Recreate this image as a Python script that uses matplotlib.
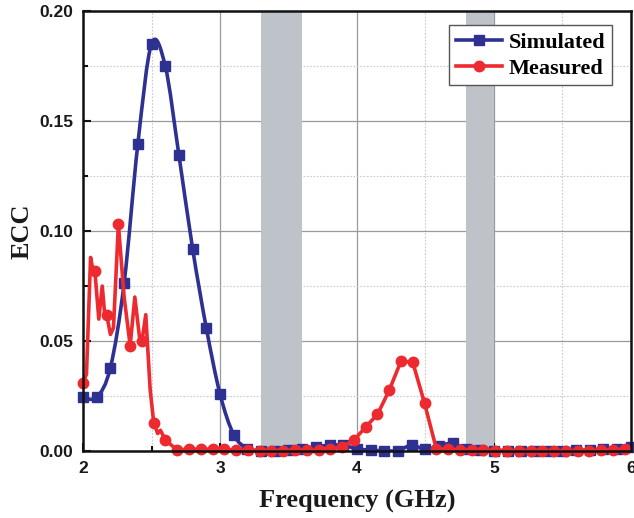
import numpy as np
import matplotlib
matplotlib.use("Agg")
import matplotlib.pyplot as plt
from matplotlib.path import Path
from matplotlib.patches import PathPatch
from matplotlib.lines import Line2D
from matplotlib.ticker import MultipleLocator

# ---- data -------------------------------------------------------------
sim_freq = [2.0, 2.1, 2.2, 2.3, 2.4, 2.5, 2.6, 2.7, 2.8, 2.9, 3.0, 3.1,
            3.2, 3.3, 3.4, 3.5, 3.6, 3.7, 3.8, 3.9, 4.0, 4.1, 4.2, 4.3,
            4.4, 4.5, 4.6, 4.7, 4.8, 4.9, 5.0, 5.1, 5.2, 5.3, 5.4, 5.5,
            5.6, 5.7, 5.8, 5.9, 6.0]
sim_ecc = [0.0245, 0.0245, 0.038, 0.0764, 0.1395, 0.185, 0.175, 0.1345,
           0.092, 0.056, 0.026, 0.0075, 0.0012, 0.0003, 0.0003, 0.0005,
           0.0010, 0.0020, 0.0027, 0.0027, 0.0010, 0.0005, 0.0002, 0.0003,
           0.0027, 0.0008, 0.0025, 0.0035, 0.0010, 0.0004, 0.0003, 0.0003,
           0.0003, 0.0003, 0.0003, 0.0003, 0.0004, 0.0005, 0.0008, 0.0012,
           0.0020]

# measured trace (vertices of the recorded curve)
meas_freq = [2.000, 2.025, 2.055, 2.070, 2.086, 2.115, 2.140, 2.160, 2.172,
             2.200, 2.222, 2.258, 2.300, 2.344, 2.378, 2.412, 2.430, 2.458,
             2.490, 2.516, 2.545, 2.565, 2.602, 2.688, 2.774, 2.860, 2.946,
             3.032, 3.118, 3.204, 3.290, 3.376, 3.462, 3.548, 3.634, 3.720,
             3.806, 3.892, 3.978, 4.064, 4.150, 4.236, 4.322, 4.408, 4.494,
             4.580, 4.666, 4.752, 4.838, 4.924, 5.010, 5.096, 5.182, 5.268,
             5.354, 5.440, 5.526, 5.612, 5.698, 5.784, 5.870, 5.956]
meas_ecc = [0.031, 0.035, 0.088, 0.083, 0.082, 0.060, 0.075, 0.061, 0.062,
            0.053, 0.056, 0.103, 0.070, 0.048, 0.070, 0.052, 0.050, 0.062,
            0.028, 0.013, 0.008, 0.0095, 0.005, 0.0005, 0.0010, 0.0008,
            0.0010, 0.0008, 0.0005, 0.0004, 0.0003, 0.0003, 0.0003, 0.0004,
            0.0005, 0.0004, 0.0010, 0.0020, 0.0050, 0.0110, 0.0167, 0.0277,
            0.0410, 0.0403, 0.0217, 0.0010, 0.0008, 0.0006, 0.0005, 0.0004,
            0.0003, 0.0003, 0.0002, 0.0002, 0.0002, 0.0002, 0.0002, 0.0002,
            0.0003, 0.0004, 0.0006, 0.0010]
# indices of the trace that carry a marker
meas_marks = [0, 4, 8, 11, 13, 16, 19, 22] + list(range(23, len(meas_freq)))

bands = [(3.3, 3.6), (4.8, 5.0)]

x_ticks = [2, 3, 4, 5, 6]
y_ticks = [0.00, 0.05, 0.10, 0.15, 0.20]

# ---- style ------------------------------------------------------------
BLUE = "#2e3192"
RED = "#ec2a2f"
BAND = "#bec3ca"
serif = ["Liberation Serif", "DejaVu Serif"]
sans = ["Liberation Sans", "DejaVu Sans"]


def smooth_path(xs, ys):
    """Cubic Bezier path (Catmull-Rom) through the given points."""
    p = np.column_stack([xs, ys]).astype(float)
    verts = [p[0]]
    codes = [Path.MOVETO]
    n = len(p)
    for i in range(n - 1):
        p0 = p[i - 1] if i > 0 else p[i]
        p1, p2 = p[i], p[i + 1]
        p3 = p[i + 2] if i + 2 < n else p[i + 1]
        c1 = p1 + (p2 - p0) / 6.0
        c2 = p2 - (p3 - p1) / 6.0
        verts += [c1, c2, p2]
        codes += [Path.CURVE4] * 3
    return Path(verts, codes)


fig = plt.figure(figsize=(6.34, 5.18), dpi=100)
ax = fig.add_axes([0.131, 0.129, 0.864, 0.850])

for lo, hi in bands:
    ax.axvspan(lo, hi, color=BAND, lw=0, zorder=1)

ax.set_xlim(2, 6)
ax.set_ylim(0, 0.20)
ax.xaxis.set_major_locator(MultipleLocator(1))
ax.xaxis.set_minor_locator(MultipleLocator(0.5))
ax.yaxis.set_major_locator(MultipleLocator(0.05))
ax.yaxis.set_minor_locator(MultipleLocator(0.025))
ax.set_xticks(x_ticks)
ax.set_yticks(y_ticks)
ax.set_xticklabels([f"{v:d}" for v in x_ticks])
ax.set_yticklabels([f"{v:.2f}" for v in y_ticks])

ax.grid(which="major", color="#9a9a9a", lw=0.9, ls="-", zorder=0)
ax.grid(which="minor", color="#c8c8d0", lw=0.8, ls=(0, (1.5, 1.5)), zorder=0)
ax.set_axisbelow(True)

# simulated curve
ax.add_patch(PathPatch(smooth_path(sim_freq, sim_ecc), fill=False,
                       edgecolor=BLUE, lw=2.6, zorder=3, capstyle="round",
                       joinstyle="round"))
ax.plot(sim_freq, sim_ecc, ls="none", marker="s", ms=6.5, color=BLUE,
        zorder=4, clip_on=False)

# measured curve
ax.plot(meas_freq, meas_ecc, color=RED, lw=2.6, zorder=5,
        solid_joinstyle="round")
ax.plot([meas_freq[i] for i in meas_marks], [meas_ecc[i] for i in meas_marks],
        ls="none", marker="o", ms=7.5, color=RED, zorder=6, clip_on=False)

for side in ["left", "bottom", "top", "right"]:
    ax.spines[side].set_linewidth(1.8)
    ax.spines[side].set_color("#111111")
    ax.spines[side].set_zorder(7)

ax.tick_params(which="both", direction="in", top=False, right=False,
               width=1.5, color="#111111")
ax.tick_params(which="major", length=6, pad=7)
ax.tick_params(which="minor", length=3.5)
for lab in ax.get_xticklabels() + ax.get_yticklabels():
    lab.set_fontfamily(sans)
    lab.set_fontweight("bold")
    lab.set_fontsize(12.5)
    lab.set_color("#1a1a1a")

ax.set_xlabel("Frequency (GHz)", family=serif, fontweight="bold",
              fontsize=19, labelpad=10, color="#1a1a1a")
ax.set_ylabel("ECC", family=serif, fontweight="bold", fontsize=19,
              labelpad=4, color="#1a1a1a")

handles = [Line2D([], [], color=BLUE, lw=2.6, marker="s", ms=6.5),
           Line2D([], [], color=RED, lw=2.6, marker="o", ms=7.5)]
leg = ax.legend(handles, ["Simulated", "Measured"], loc="upper right",
                bbox_to_anchor=(0.966, 0.967), frameon=True, fancybox=False,
                framealpha=1, edgecolor="#555555", handlelength=2.1,
                handletextpad=0.3, borderpad=0.3, labelspacing=0.25,
                borderaxespad=0.0,
                prop={"family": serif, "weight": "bold", "size": 16})
leg.get_frame().set_linewidth(1.0)
leg.set_zorder(10)

fig.savefig("out.png", dpi=100)
